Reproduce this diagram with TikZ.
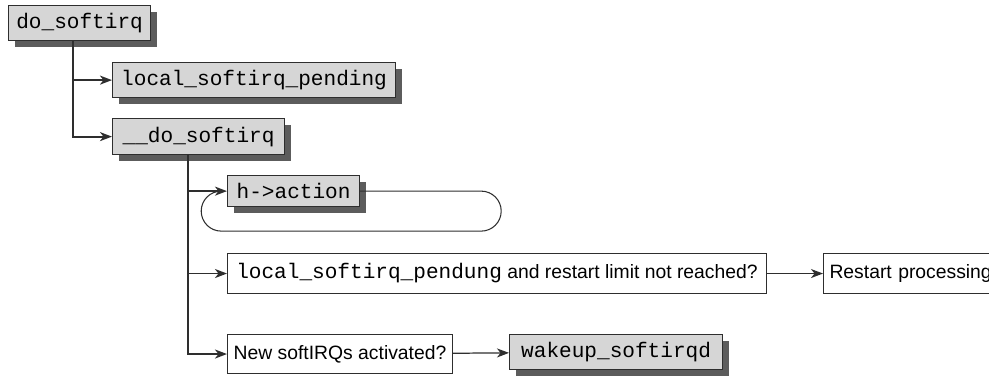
\documentclass[tikz,border=0pt]{standalone}
\usepackage{fontspec}
\setmainfont{Liberation Sans}
\setmonofont{Liberation Mono}
\usepackage{tikz}
\usetikzlibrary{arrows.meta, shadows}
\usepackage{xcolor}
\definecolor{boxGray}{HTML}{D6D6D6}
\definecolor{shadowGray}{HTML}{5C5C5C}
\definecolor{edgeGray}{HTML}{2E2E2E}

\newcommand\monotext{\ttfamily\fontsize{12}{14}\selectfont}
\newcommand\sanstext{\rmfamily\fontsize{11}{13}\selectfont}

\tikzset{
    fnbox/.style={draw=edgeGray, line width=0.7pt, fill=boxGray, font=\monotext,
        inner sep=0pt, minimum height=0.7cm, anchor=north west,
        drop shadow={shadow xshift=0.12cm, shadow yshift=-0.12cm, fill=shadowGray, opacity=1}},
    condbox/.style={draw=edgeGray, line width=0.6pt, fill=white, font=\sanstext,
        inner sep=0pt, minimum height=0.8cm, anchor=north west},
    link/.style={draw=edgeGray, line width=1.1pt, -{Stealth[length=2.4mm, width=1.8mm, inset=0.7mm]}},
    thinlink/.style={draw=edgeGray, line width=0.7pt, -{Stealth[length=2.4mm, width=1.8mm, inset=0.7mm]}},
}

\begin{document}
\begin{tikzpicture}[x=0.02cm, y=-0.02cm]
    \useasboundingbox (0,0) rectangle (989,376);

    % Function boxes
    \node[fnbox, minimum width=2.84cm] (dosoft) at (8,5) {do\_softirq};
    \node[fnbox, minimum width=5.66cm] (pending) at (112,62) {local\_softirq\_pending};
    \node[fnbox, minimum width=3.44cm, minimum height=0.72cm] (inner) at (112,118) {\_\_do\_softirq};
    \node[fnbox, minimum width=2.64cm, minimum height=0.62cm] (action) at (227,175) {h->action};
    \node[fnbox, minimum width=4.26cm] (wakeup) at (509,334) {wakeup\_softirqd};

    % Condition boxes
    \node[condbox, minimum width=10.78cm] (again) at (227,253)
        {{\monotext local\_softirq\_pendung} and restart limit not reached?};
    \node[condbox, minimum width=3.5cm, align=left, text width=3.26cm] (restart) at (823,253) {Restart processing};
    \node[condbox, minimum width=4.5cm, minimum height=0.78cm] (newirq) at (227,334) {New softIRQs activated?};

    % Call tree
    \coordinate (trunkA) at (73,0);
    \coordinate (trunkB) at (188,0);
    \draw[link] (dosoft.south -| trunkA) |- (pending.west);
    \draw[link] (dosoft.south -| trunkA) |- (inner.west);
    \draw[link] (inner.south -| trunkB) |- (action.west);
    \draw[link] (inner.south -| trunkB) |- (again.west);
    \draw[link] (inner.south -| trunkB) |- (newirq.west);

    % Loop over handlers
    \draw[edgeGray, line width=0.6pt] (action.east) -- ++(121,0)
        arc[start angle=90, end angle=-90, radius=0.4cm] -- ++(-260,0)
        arc[start angle=270, end angle=90, radius=0.4cm];

    % Outcomes
    \draw[thinlink] (again) -- (restart);
    \draw[thinlink] (newirq) -- (wakeup);
\end{tikzpicture}
\end{document}
